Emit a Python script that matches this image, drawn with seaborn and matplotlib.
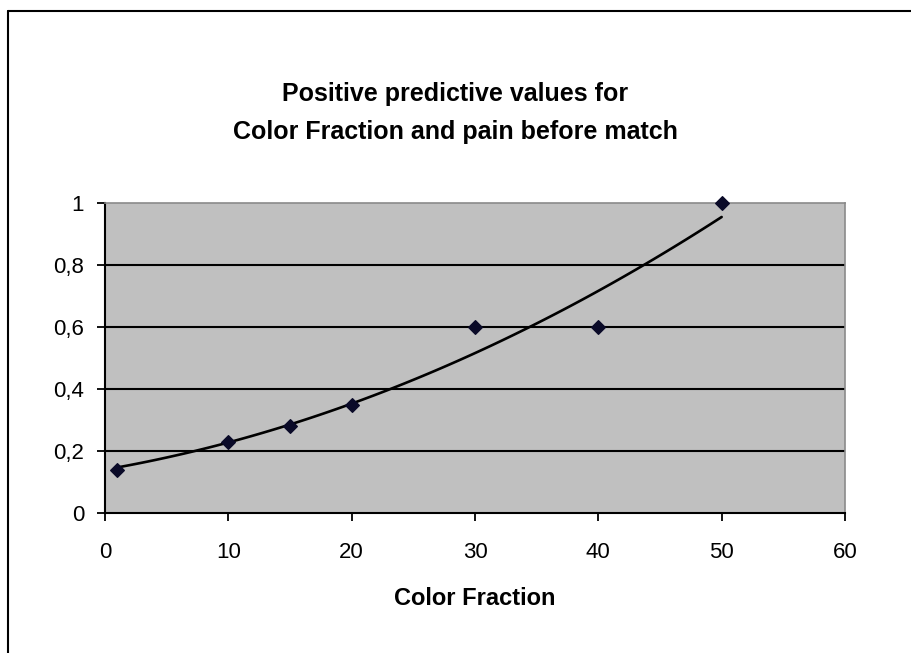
import matplotlib
matplotlib.use("Agg")
import matplotlib.pyplot as plt
import seaborn as sns
import pandas as pd
from matplotlib.lines import Line2D

color_fraction = [1, 10, 15, 20, 30, 40, 50]
ppv = [0.14, 0.23, 0.28, 0.35, 0.60, 0.60, 1.00]
x_ticks = [0, 10, 20, 30, 40, 50, 60]
y_ticks = [0, 0.2, 0.4, 0.6, 0.8, 1.0]
y_tick_labels = ["0", "0,2", "0,4", "0,6", "0,8", "1"]
title_text = "Positive predictive values for\nColor Fraction and pain before match"
x_label = "Color Fraction"

sns.set_theme(style="white")
plt.rcParams["font.family"] = ["Liberation Sans", "DejaVu Sans"]
plt.rcParams["text.color"] = "black"
plt.rcParams["axes.labelcolor"] = "black"

df = pd.DataFrame({"x": color_fraction, "y": ppv})

fig = plt.figure(figsize=(9.11, 6.53), dpi=100)
fig.patch.set_facecolor("white")
ax = fig.add_axes([105 / 911, 1 - 513 / 653, 740 / 911, 310 / 653])
ax.set_facecolor("#C0C0C0")

for yv in y_ticks[1:-1]:
    ax.axhline(yv, color="black", lw=1.5, zorder=1)

sns.regplot(data=df, x="x", y="y", order=2, ci=None, truncate=True, ax=ax,
            marker="D",
            scatter_kws={"s": 48, "color": "#0a0a28", "edgecolor": "#0a0a28",
                         "alpha": 1.0, "zorder": 4, "clip_on": False},
            line_kws={"color": "black", "lw": 1.9, "zorder": 3})

ax.set_xlim(0, 60)
ax.set_ylim(0, 1)
ax.set_xticks(x_ticks)
ax.set_xticklabels([str(v) for v in x_ticks])
ax.set_yticks(y_ticks)
ax.set_yticklabels(y_tick_labels)
ax.tick_params(axis="both", which="major", direction="out", length=6, width=1.3,
               color="black", labelsize=16, labelcolor="black", bottom=True, left=True)
ax.tick_params(axis="y", pad=9)
ax.tick_params(axis="x", pad=15)

for s in ["left", "bottom"]:
    ax.spines[s].set_color("black")
    ax.spines[s].set_linewidth(1.5)
for s in ["top", "right"]:
    ax.spines[s].set_color("#8a8a8a")
    ax.spines[s].set_linewidth(1.2)

ax.set_xlabel(x_label, fontsize=17, fontweight="bold", labelpad=17, color="black")
ax.set_ylabel("")

fig.text(455 / 911, 1 - 113 / 653, title_text, ha="center", va="center",
         fontsize=18, fontweight="bold", linespacing=1.75, color="black")

fig.add_artist(Line2D([8 / 911, 8 / 911], [0, 1 - 11 / 653], transform=fig.transFigure,
                      color="black", lw=1.5))
fig.add_artist(Line2D([8 / 911, 1], [1 - 11 / 653, 1 - 11 / 653], transform=fig.transFigure,
                      color="black", lw=1.5))

fig.savefig("out.png", dpi=100, facecolor="white")
